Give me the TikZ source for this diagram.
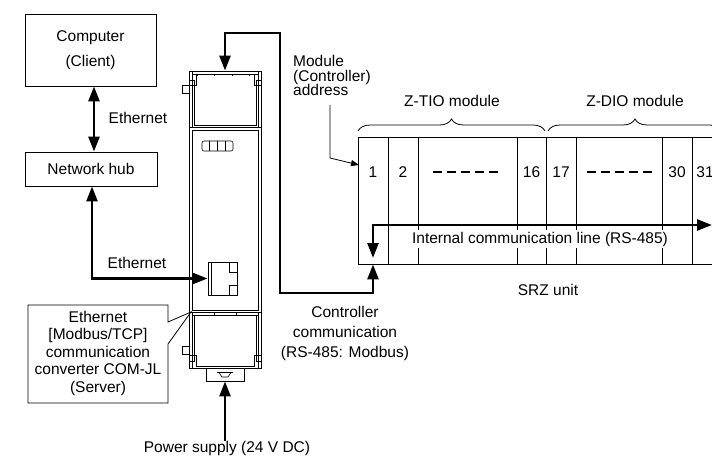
\documentclass[tikz,border=0pt]{standalone}
\usepackage{fontspec}
\setmainfont{Liberation Sans}
\usetikzlibrary{arrows.meta,decorations.pathreplacing}
\begin{document}
\begin{tikzpicture}[x=1pt,y=-1pt,
  >={Triangle[length=15pt,width=11pt]},
  lbl/.style={font=\fontsize{15.5}{18}\selectfont, inner sep=0pt, align=center},
  box/.style={draw, line width=0.8pt, inner sep=0pt},
  cell/.style={draw, line width=0.8pt, minimum height=127pt, inner sep=0pt},
  thk/.style={line width=2.6pt},
  thn/.style={line width=0.6pt},
  smallarr/.style={line width=0.8pt, -{Triangle[length=8pt,width=6pt]}},
  dashline/.style={line width=1.6pt, dash pattern=on 9pt off 5pt},
  brc/.style={line width=0.8pt, decorate, decoration={brace, amplitude=12pt}}]
\useasboundingbox (0,0) rectangle (712,457);
\clip (0,0) rectangle (712,457);

% left column
\node[box, minimum width=131pt, minimum height=72pt, font=\fontsize{15.5}{25}\selectfont, align=center] (comp) at (90.5,50) {Computer\\(Client)};
\node[box, lbl, minimum width=132pt, minimum height=34pt] (hub) at (91,169) {Network hub};
\coordinate (ax) at (94,0);
\draw[thk,<->] (comp.south -| ax) -- (hub.north -| ax);
\node[lbl] (eth1) at (138,118) {Ethernet};

% device COM-JL
\node[box, minimum width=72pt, minimum height=56pt] (topc) at (225,99) {};
\node[box, minimum width=72pt, minimum height=185pt] (dev) at (225,219.5) {};
\node[box, minimum width=72pt, minimum height=56pt] (botc) at (225,340) {};
\node[box, minimum width=38pt, minimum height=13pt] (foot) at (225,374.5) {};
% top block details
\draw[thn] (192,71) -- (192,127) (258,71) -- (258,127);
\draw[thn] (192,74) -- (258,74);
\draw[thn] (196,74) -- (196,85) -- (194,85) -- (194,125) -- (256,125) -- (256,85) -- (254,85) -- (254,74);
\draw[thn] (189,80) rectangle (194,85) (256,80) rectangle (261,85);
\draw[thn] (182,85) rectangle (189,93);
\foreach \xx in {197,214,232,249} \draw[thn] (\xx,74) -- (\xx,76);
% body details
\draw[thn] (192,130) rectangle (258,310);
\draw[thn, rounded corners=2pt] (202,141) rectangle (233,151);
\draw[thn] (209.75,141) -- (209.75,151) (217.5,141) -- (217.5,151) (225.25,141) -- (225.25,151);
% port
\node[box, minimum width=29pt, minimum height=33pt] (port) at (222.5,278.5) {};
\draw[thn] (211,262) -- (211,295);
\draw[thn] (229,262) rectangle (237,272) (229,285) rectangle (237,295);
% lower block details
\draw[thn] (192,312) -- (192,368) (258,312) -- (258,368);
\draw[thn] (192,315) -- (258,315);
\draw[thn] (194,315) -- (194,355) -- (196,355) -- (196,366) -- (254,366) -- (254,355) -- (256,355) -- (256,315);
\draw[thn] (189,355) rectangle (194,361) (256,355) rectangle (261,361);
\draw[thn] (182,346) rectangle (189,354);
\foreach \xx in {214,236} \draw[thn] (\xx,313) -- (\xx,315);
% foot symbol
\draw[thn] (217,372.5) -- (233,372.5);
\draw[thn] (219,372.5) -- (222,377) -- (228,377) -- (231,372.5);

% lower Ethernet
\coordinate (bx) at (92,0);
\draw[thk,<->] (hub.south -| bx) |- (port.west);
\node[lbl] (eth2) at (137,263) {Ethernet};

% callout
\draw[line width=0.8pt] (28,305) -- (168,305) -- (168,322) -- (191,312) -- (168,344) -- (168,403) -- (28,403) -- cycle;
\node[font=\fontsize{15.5}{17.5}\selectfont, align=center, inner sep=0pt] (conv) at (98,353) {Ethernet\\{[}Modbus/TCP{]}\\communication\\converter COM-JL\\(Server)};

% power
\node[lbl] (pwr) at (227,448) {Power supply (24 V DC)};
\draw[thk,->] (pwr.north -| foot.south) -- (foot.south);

% SRZ unit cells
\node[cell, minimum width=30pt] (c1) at (373,200.5) {};
\node[cell, minimum width=30pt] (c2) at (403,200.5) {};
\node[cell, minimum width=99pt] (cd1) at (467.5,200.5) {};
\node[cell, minimum width=29pt] (c16) at (531.5,200.5) {};
\node[cell, minimum width=30pt] (c17) at (561,200.5) {};
\node[cell, minimum width=86pt] (cd2) at (619,200.5) {};
\node[cell, minimum width=30pt] (c30) at (677,200.5) {};
\node[cell, minimum width=26pt] (c31) at (705,200.5) {};
\coordinate (row) at (0,172);
\node[lbl] (n1) at (c1 |- row) {1};
\node[lbl] (n2) at (c2 |- row) {2};
\node[lbl] (n16) at (c16 |- row) {16};
\node[lbl] (n17) at (c17 |- row) {17};
\node[lbl] (n30) at (c30 |- row) {30};
\node[lbl] (n31) at (c31 |- row) {31};
\draw[dashline] (433,172) -- (498,172);
\draw[dashline] (587,172) -- (652,172);

% internal line
\coordinate (il) at (373,258);
\coordinate (ir) at (712,225);
\draw[thk,<->] (il) |- (ir);
\node[lbl, fill=white, inner xsep=1pt, inner ysep=2pt] (intl) at (540,239) {Internal communication line (RS-485)};
\node[lbl] (srz) at (548,290) {SRZ unit};

% controller communication loop
\coordinate (k1) at (280,33);
\coordinate (k2) at (280,293);
\draw[thk,<->] (topc.north) |- (k1) -- (k2) -| (c1.south);
\node[font=\fontsize{15.5}{20}\selectfont, align=center, inner sep=0pt] (ccl) at (345,333) {Controller\\communication\\(RS-485: Modbus)};

% module address
\node[font=\fontsize{15.5}{14.6}\selectfont, align=left, inner sep=0pt, anchor=north west] (addr) at (293,55) {Module\\(Controller)\\address};
\coordinate (a1) at (330,105);
\coordinate (a2) at (330,158);
\coordinate (a3) at (359,165);
\draw[smallarr] (a1) -- (a2) -- (a3);

% braces
\draw[brc] (358,131) -- (545,131);
\draw[brc] (548,131) -- (722,131);
\node[lbl] (ztio) at (452,101) {Z-TIO module};
\node[lbl] (zdio) at (635,101) {Z-DIO module};
\end{tikzpicture}
\end{document}
